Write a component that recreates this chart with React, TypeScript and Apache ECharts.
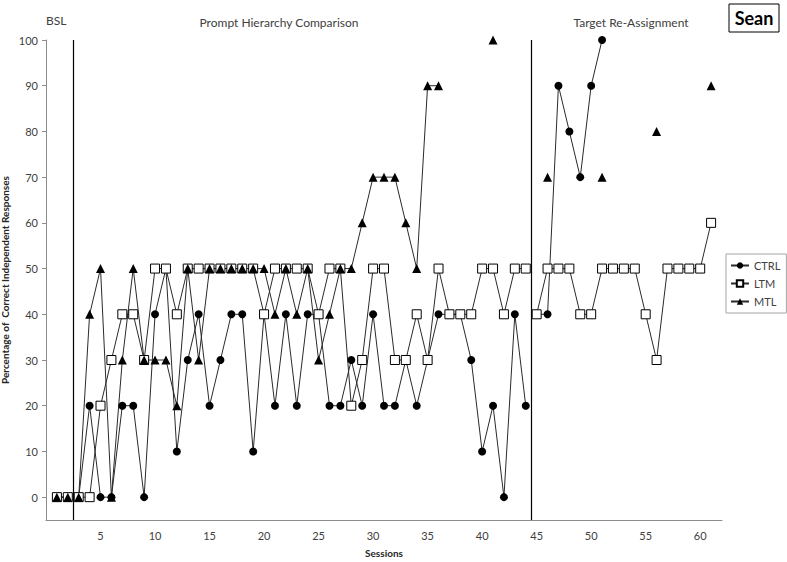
import React, { useEffect, useRef } from "react";
import * as echarts from "echarts";

// Session-by-session percentages (null = not probed)
const ctrlValues: (number | null)[] = [
  0, 0, 0, 20, 0, 0, 20, 20, 0, 40,
  50, 10, 30, 40, 20, 30, 40, 40, 10, 40,
  20, 40, 20, 40, 40, 20, 20, 30, 20, 40,
  20, 20, 30, 20, 30, 40, 40, 40, 30, 10,
  20, 0, 40, 20, 40, 40, 90, 80, 70, 90,
  100, null, null, null, null, null, null, null, null, null, null,
];
const ltmValues: (number | null)[] = [
  0, 0, 0, 0, 20, 30, 40, 40, 30, 50,
  50, 40, 50, 50, 50, 50, 50, 50, 50, 40,
  50, 50, 50, 50, 40, 50, 50, 20, 30, 50,
  50, 30, 30, 40, 30, 50, 40, 40, 40, 50,
  50, 40, 50, 50, 40, 50, 50, 50, 40, 40,
  50, 50, 50, 50, 40, 30, 50, 50, 50, 50, 60,
];
const mtlValues: (number | null)[] = [
  0, 0, 0, 40, 50, 0, 30, 50, 30, 30,
  30, 20, 50, 30, 50, 50, 50, 50, 50, 50,
  40, 50, 40, 50, 30, 40, 50, 50, 60, 70,
  70, 70, 60, 50, 90, 90, null, null, null, null,
  100, null, null, null, null, 70, null, null, null, null,
  70, null, null, null, null, 80, null, null, null, null, 90,
];

const phaseChanges = [2.5, 44.5];
const phaseNames = ["BSL", "Prompt Hierarchy Comparison", "Target Re-Assignment"];
const yTicks = [0, 10, 20, 30, 40, 50, 60, 70, 80, 90, 100];
const xTicks = [5, 10, 15, 20, 25, 30, 35, 40, 45, 50, 55, 60];
const seriesNames = ["CTRL", "LTM", "MTL"];
const participant = "Sean";

const FONT = 'Lato, "Open Sans", "DejaVu Sans", sans-serif';

function build(values: (number | null)[]) {
  const pts: any[] = [];
  values.forEach((v, i) => {
    const s = i + 1;
    phaseChanges.forEach((b) => {
      if (s - 1 < b && s > b) pts.push([b, "-"]);
    });
    pts.push([s, v == null ? "-" : v]);
  });
  return pts;
}

export default function App() {
  const ref = useRef<HTMLDivElement>(null);
  useEffect(() => {
    document.body.style.margin = "0";
    if (!ref.current) return;
    const chart = echarts.init(ref.current, undefined, { renderer: "svg" });
    const lineStyle = { color: "#2a2a2a", width: 1 };
    const option: any = {
      animation: false,
      textStyle: { fontFamily: FONT },
      grid: { left: 46, right: 65, top: 40, bottom: 42, containLabel: false, outerBoundsMode: "none" },
      xAxis: {
        type: "value",
        min: 0,
        max: 62,
        splitLine: { show: false },
        axisLine: { onZero: false, lineStyle: { color: "#8c8c8c" } },
        axisTick: { show: false },
        axisLabel: {
          customValues: xTicks,
          fontSize: 11,
          color: "#404040",
          margin: 10,
          fontFamily: FONT,
        },
        name: "Sessions",
        nameLocation: "middle",
        nameGap: 28,
        nameMoveOverlap: false,
        nameTextStyle: { fontSize: 10, fontWeight: "bold", color: "#262626", fontFamily: FONT },
      },
      yAxis: {
        type: "value",
        min: -5,
        max: 100,
        splitLine: { show: false },
        axisLine: { show: true, onZero: false, lineStyle: { color: "#8c8c8c" } },
        axisTick: { show: true, customValues: yTicks, length: 4, lineStyle: { color: "#8c8c8c" } },
        axisLabel: {
          customValues: yTicks,
          fontSize: 11,
          color: "#404040",
          margin: 8,
          fontFamily: FONT,
        },
        name: "Percentage of  Correct Independent Responses",
        nameLocation: "middle",
        nameGap: 36,
        nameMoveOverlap: false,
        nameTextStyle: { fontSize: 10, fontWeight: "bold", color: "#262626", fontFamily: FONT },
      },
      legend: {
        orient: "vertical",
        left: 726,
        top: 254,
        itemGap: 7,
        itemWidth: 18,
        itemHeight: 8,
        borderColor: "#a6a6a6",
        borderWidth: 1,
        padding: [6, 6, 6, 4],
        backgroundColor: "#fff",
        textStyle: { fontSize: 11, color: "#404040", fontFamily: FONT },
        data: seriesNames,
      },
      graphic: [
        { type: "text", left: 46, top: 14, style: { text: phaseNames[0], fontSize: 12, fill: "#404040", fontFamily: FONT } },
        { type: "text", x: 279, y: 22, style: { text: phaseNames[1], fontSize: 12, fill: "#404040", fontFamily: FONT, align: "center", verticalAlign: "middle" } },
        { type: "text", x: 631, y: 22, style: { text: phaseNames[2], fontSize: 12, fill: "#404040", fontFamily: FONT, align: "center", verticalAlign: "middle" } },
        { type: "rect", shape: { x: 729, y: 4, width: 50, height: 28 }, style: { fill: "#fff", stroke: "#000", lineWidth: 1 } },
        { type: "text", x: 754, y: 18, style: { text: participant, fontSize: 18, fontWeight: "bold", fill: "#000", fontFamily: FONT, align: "center", verticalAlign: "middle" } },
      ],
      series: [
        {
          name: seriesNames[0],
          type: "line",
          data: build(ctrlValues),
          symbol: "circle",
          symbolSize: 8,
          showAllSymbol: true,
          connectNulls: false,
          itemStyle: { color: "#000" },
          lineStyle,
          markLine: {
            silent: true,
            symbol: "none",
            label: { show: false },
            lineStyle: { color: "#000", width: 1.2, type: "solid" },
            data: phaseChanges.map((x) => ({ xAxis: x })),
          },
        },
        {
          name: seriesNames[1],
          type: "line",
          data: build(ltmValues),
          symbol: "rect",
          symbolSize: 9,
          showAllSymbol: true,
          connectNulls: false,
          itemStyle: { color: "#fff", borderColor: "#000", borderWidth: 1 },
          lineStyle,
        },
        {
          name: seriesNames[2],
          type: "line",
          data: build(mtlValues),
          symbol: "triangle",
          symbolSize: 9,
          showAllSymbol: true,
          connectNulls: false,
          itemStyle: { color: "#000" },
          lineStyle,
        },
      ],
    };
    chart.setOption(option);
    return () => chart.dispose();
  }, []);
  return <div ref={ref} style={{ width: 787, height: 562 }} />;
}
